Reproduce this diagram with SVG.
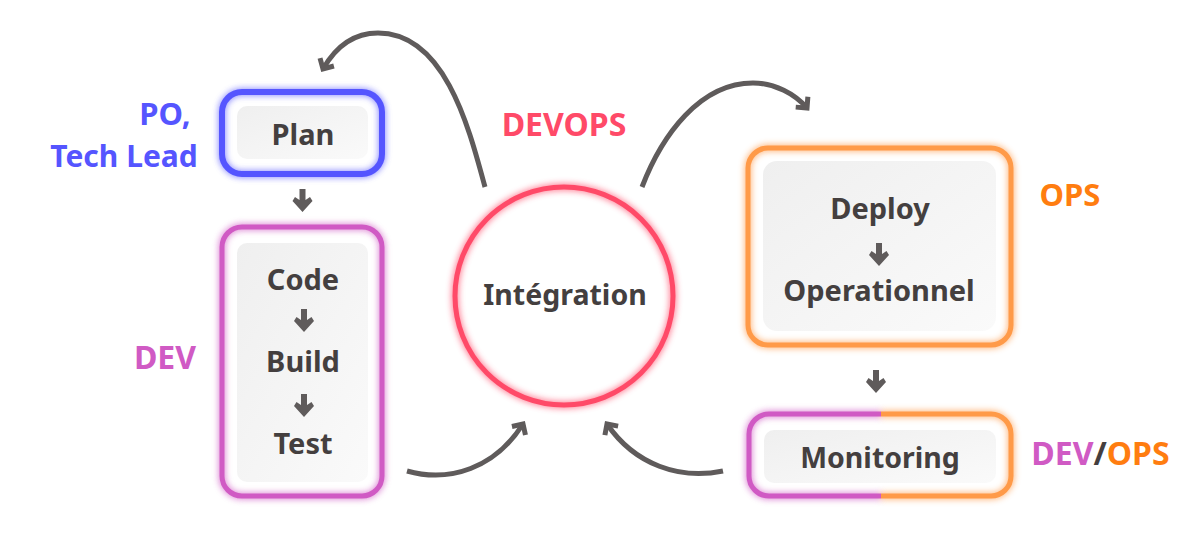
<svg xmlns="http://www.w3.org/2000/svg" width="1200" height="541" viewBox="0 0 1200 541">
<defs>
<linearGradient id="card" x1="0" y1="0" x2="1" y2="1"><stop offset="0" stop-color="#efefef"/><stop offset="1" stop-color="#fafafa"/></linearGradient>
<filter id="glow" x="-20%" y="-20%" width="140%" height="140%"><feGaussianBlur stdDeviation="3"/></filter>
<marker id="head" viewBox="0 0 20 24" markerUnits="userSpaceOnUse" markerWidth="20" markerHeight="24" refX="11" refY="12" orient="auto"><path d="M3 4 L11 12 L3 20" fill="none" stroke="#5f5b5b" stroke-width="5"/></marker>
<path id="down" d="M-3 -11 H3 V0 L7.500 -3 L10 1 L0 12 L-10 1 L-7.500 -3 L-3 0 Z" fill="#5f5b5b"/>
</defs>
<style>
text{font-family:"Noto Sans","Open Sans",sans-serif;font-weight:700;text-anchor:middle}
.lb{font-size:29px;fill:#443f3f}
.lm{font-size:28.500px;fill:#443f3f}
.tg{font-size:32px}
.box{fill:none;stroke-width:5}
.gl{fill:none;stroke-width:7;filter:url(#glow);opacity:.7}
.card{fill:url(#card)}
.cn{fill:none;stroke:#5f5b5b;stroke-width:5}
</style>
<rect width="1200" height="541" fill="#fff"/>
<g id="plan">
<rect class="gl" x="222" y="92" width="160" height="82" rx="20" stroke="#5555ff"/>
<rect class="box" x="222" y="92" width="160" height="82" rx="20" stroke="#5555ff" style="stroke-width:6"/>
<rect class="card" x="237" y="106" width="131" height="53" rx="10"/>
<text class="lb" x="303" y="145">Plan</text>
</g>
<g id="dev">
<rect class="gl" x="222" y="227" width="160" height="269" rx="20" stroke="#d05ac4"/>
<rect class="box" x="222" y="227" width="160" height="269" rx="20" stroke="#d05ac4"/>
<rect class="card" x="237" y="243" width="131" height="239" rx="10"/>
<text class="lb" x="303" y="290">Code</text>
<text class="lb" x="303" y="372">Build</text>
<text class="lb" x="303" y="454">Test</text>
</g>
<g id="integration">
<circle class="gl" cx="564" cy="296" r="109" stroke="#ff4a68"/>
<circle class="box" cx="564" cy="296" r="109" stroke="#ff4a68"/>
<text class="lm" x="565" y="305">Intégration</text>
</g>
<g id="deploy">
<rect class="gl" x="748" y="148" width="263" height="197" rx="20" stroke="#ff9a48"/>
<rect class="box" x="748" y="148" width="263" height="197" rx="20" stroke="#ff9a48"/>
<rect class="card" x="763" y="161" width="233" height="170" rx="14"/>
<text class="lb" x="880" y="219">Deploy</text>
<text class="lb" x="879" y="301">Operationnel</text>
</g>
<g id="monitoring">
<path class="gl" d="M881 414 H769 A20 20 0 0 0 749 434 V476 A20 20 0 0 0 769 496 H881" stroke="#d05ac4"/>
<path class="gl" d="M881 414 H991 A20 20 0 0 1 1011 434 V476 A20 20 0 0 1 991 496 H881" stroke="#ff9a48"/>
<path class="box" d="M881 414 H769 A20 20 0 0 0 749 434 V476 A20 20 0 0 0 769 496 H881" stroke="#d05ac4"/>
<path class="box" d="M881 414 H991 A20 20 0 0 1 1011 434 V476 A20 20 0 0 1 991 496 H881" stroke="#ff9a48"/>
<rect class="card" x="764" y="430" width="232" height="53" rx="10"/>
<text class="lm" x="880" y="468">Monitoring</text>
</g>
<g id="connectors">
<path class="cn" marker-end="url(#head)" d="M485 187 C469 128 445 33 378 33 C353 33 335 48 323 69"/>
<path class="cn" marker-end="url(#head)" d="M642 187 C662 135 700 83 753 83 C775 83 795 94 807 108"/>
<path class="cn" marker-end="url(#head)" d="M407 471 C450 483 495 468 523 424"/>
<path class="cn" marker-end="url(#head)" d="M723 471 C680 480 635 465 607 424"/>
<use href="#down" x="302.500" y="200"/>
<use href="#down" x="304" y="320"/>
<use href="#down" x="304" y="405"/>
<use href="#down" x="879" y="254"/>
<use href="#down" x="876" y="381"/>
</g>
<g id="labels">
<text class="tg" x="165" y="125" style="font-size:31px" fill="#5555ff">PO,</text>
<text class="tg" x="124" y="167" style="font-size:30px" fill="#5555ff">Tech Lead</text>
<text class="tg" x="165" y="369" fill="#d05ac4">DEV</text>
<text class="tg" x="564" y="136" fill="#ff4a68">DEVOPS</text>
<text class="tg" x="1070" y="206" style="font-size:31px" fill="#ff7d10">OPS</text>
<text class="tg" x="1100.500" y="465"><tspan fill="#d05ac4">DEV</tspan><tspan fill="#443f3f">/</tspan><tspan fill="#ff7d10">OPS</tspan></text>
</g>
</svg>
